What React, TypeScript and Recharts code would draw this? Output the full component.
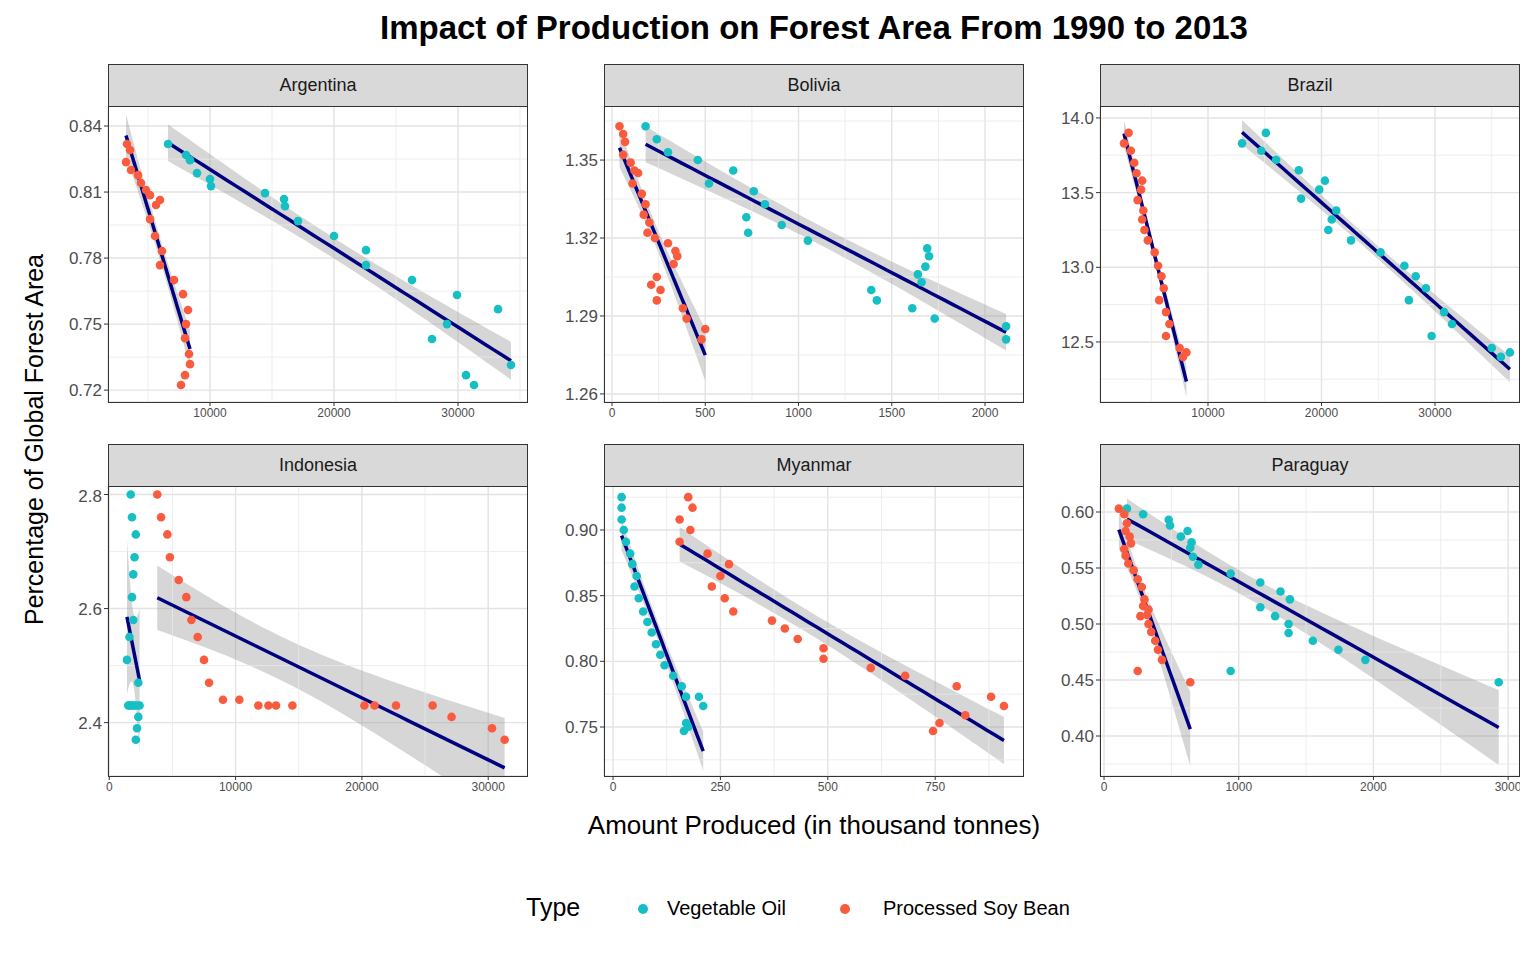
import React from 'react';
import {
  ComposedChart, Scatter, Line, Area, XAxis, YAxis, CartesianGrid, ReferenceLine,
} from 'recharts';

const TEAL = '#16BFC3';
const RED = '#FA5A3E';

type P = [number, number];

const argentinaOil: P[] = [[6613,.8318],[8065,.8268],[8387,.8245],[8952,.8186],[10000,.8159],[10081,.8127],[14435,.8095],[15968,.8068],[16048,.8036],[17097,.7968],[20000,.79],[22581,.7836],[22581,.7768],[26290,.77],[29919,.7632],[27903,.7432],[29113,.75],[33226,.7568],[30645,.7268],[31290,.7223],[34274,.7314]];
const argentinaSoy: P[] = [[3306,.8318],[3226,.8236],[3548,.8291],[3629,.82],[4194,.8177],[4435,.8141],[4839,.8109],[5161,.8086],[5645,.8041],[5968,.8064],[5161,.7977],[5565,.79],[6129,.7832],[5968,.7768],[7097,.77],[7823,.7636],[8065,.75],[8226,.7564],[7984,.7436],[8306,.7364],[8387,.7318],[7984,.7268],[7661,.7223]];
const boliviaOil: P[] = [[180,1.363],[240,1.358],[300,1.353],[460,1.350],[520,1.341],[650,1.346],[720,1.328],[730,1.322],[760,1.338],[820,1.333],[910,1.325],[1050,1.319],[1390,1.300],[1420,1.296],[1610,1.293],[1640,1.306],[1660,1.303],[1680,1.309],[1690,1.316],[1700,1.313],[1730,1.289],[2113,1.286],[2113,1.281]];
const boliviaSoy: P[] = [[40,1.363],[60,1.360],[70,1.357],[60,1.352],[100,1.349],[120,1.346],[140,1.345],[110,1.341],[160,1.337],[180,1.333],[170,1.329],[200,1.326],[190,1.322],[230,1.320],[300,1.318],[340,1.315],[350,1.313],[330,1.310],[240,1.305],[210,1.302],[260,1.300],[240,1.296],[380,1.293],[400,1.289],[500,1.285],[480,1.281]];
const brazilOil: P[] = [[13000,13.83],[14700,13.78],[15100,13.9],[16000,13.72],[18000,13.65],[18200,13.46],[19800,13.52],[20300,13.58],[20600,13.25],[20900,13.32],[21300,13.38],[22600,13.18],[25200,13.10],[27300,13.01],[27700,12.78],[28300,12.94],[29200,12.86],[29700,12.54],[30800,12.70],[31500,12.62],[35000,12.46],[35800,12.40],[36600,12.43]];
const brazilSoy: P[] = [[2600,13.83],[3000,13.90],[3200,13.78],[3500,13.70],[3700,13.63],[3800,13.45],[4100,13.52],[4200,13.58],[4300,13.38],[4200,13.32],[4400,13.25],[4700,13.18],[5300,13.10],[5600,13.01],[5900,12.94],[6100,12.86],[5700,12.78],[6300,12.70],[6600,12.62],[6300,12.54],[7500,12.46],[7800,12.40],[8100,12.43]];
const indonesiaOil: P[] = [[1700,2.80],[1800,2.76],[2100,2.73],[2000,2.69],[1900,2.66],[1800,2.62],[1900,2.58],[1600,2.55],[2300,2.47],[1400,2.51],[1600,2.43],[1700,2.43],[1900,2.43],[2200,2.43],[2400,2.43],[2300,2.41],[2200,2.39],[2100,2.37],[1500,2.43],[2000,2.43]];
const indonesiaSoy: P[] = [[3800,2.80],[4100,2.76],[4600,2.73],[4800,2.69],[5500,2.65],[6100,2.62],[6500,2.58],[7000,2.55],[7500,2.51],[7900,2.47],[9000,2.44],[10300,2.44],[11800,2.43],[12600,2.43],[13200,2.43],[14500,2.43],[20200,2.43],[21000,2.43],[22700,2.43],[25600,2.43],[27100,2.41],[30300,2.39],[31300,2.37]];
const myanmarOil: P[] = [[20,.925],[20,.917],[20,.908],[25,.900],[30,.891],[40,.882],[45,.874],[55,.865],[50,.857],[60,.848],[70,.838],[80,.830],[90,.822],[100,.813],[110,.805],[120,.797],[140,.789],[160,.781],[170,.773],[200,.773],[210,.766],[170,.753],[175,.750],[165,.747]];
const myanmarSoy: P[] = [[175,.925],[185,.917],[155,.908],[180,.900],[155,.891],[220,.882],[270,.874],[250,.865],[230,.857],[260,.848],[280,.838],[370,.831],[400,.825],[430,.817],[490,.810],[490,.802],[600,.795],[680,.789],[800,.781],[880,.773],[910,.766],[820,.759],[760,.753],[745,.747]];
const paraguayOil: P[] = [[170,.603],[290,.598],[480,.593],[490,.588],[570,.578],[620,.583],[640,.568],[650,.573],[660,.56],[700,.553],[940,.545],[1160,.537],[1160,.515],[1310,.529],[1270,.507],[1370,.500],[1370,.492],[1380,.522],[1550,.485],[1740,.477],[1940,.468],[940,.458],[2930,.448]];
const paraguaySoy: P[] = [[110,.603],[150,.598],[170,.59],[160,.583],[190,.578],[200,.572],[150,.567],[160,.561],[180,.554],[220,.548],[250,.54],[280,.533],[300,.522],[290,.516],[320,.508],[330,.5],[350,.493],[380,.485],[400,.477],[430,.468],[250,.458],[640,.448],[330,.513],[270,.507]];

const countries = ['Argentina', 'Bolivia', 'Brazil', 'Indonesia', 'Myanmar', 'Paraguay'];

// linear fit with 95% confidence band, like geom_smooth(method = "lm")
function smooth(pts: P[]) {
  const n = pts.length;
  const mx = pts.reduce((s, p) => s + p[0], 0) / n;
  const my = pts.reduce((s, p) => s + p[1], 0) / n;
  let sxx = 0, sxy = 0;
  pts.forEach(([x, y]) => { sxx += (x - mx) ** 2; sxy += (x - mx) * (y - my); });
  const b = sxy / sxx, a = my - b * mx;
  let sse = 0;
  pts.forEach(([x, y]) => { sse += (y - a - b * x) ** 2; });
  const s = Math.sqrt(sse / (n - 2));
  const t = 2.08;
  const xs = pts.map((p) => p[0]);
  const lo = Math.min(...xs), hi = Math.max(...xs);
  const out = [];
  for (let i = 0; i <= 40; i++) {
    const x = lo + ((hi - lo) * i) / 40;
    const y = a + b * x;
    const se = s * Math.sqrt(1 / n + (x - mx) ** 2 / sxx);
    out.push({ x, y, band: [y - t * se, y + t * se] });
  }
  return out;
}

const panels = [
  { oil: argentinaOil, soy: argentinaSoy, left: 108, top: 106, h: 296, xd: [1774, 35645], yd: [.7146, .8491], xt: [10000, 20000, 30000], yt: [.72, .75, .78, .81, .84], dec: 2 },
  { oil: boliviaOil, soy: boliviaSoy, left: 604, top: 106, h: 296, xd: [-43, 2209], yd: [1.2569, 1.3708], xt: [0, 500, 1000, 1500, 2000], yt: [1.26, 1.29, 1.32, 1.35], dec: 2 },
  { oil: brazilOil, soy: brazilSoy, left: 1100, top: 106, h: 296, xd: [485, 37489], yd: [12.098, 14.08], xt: [10000, 20000, 30000], yt: [12.5, 13, 13.5, 14], dec: 1 },
  { oil: indonesiaOil, soy: indonesiaSoy, left: 108, top: 486, h: 290, xd: [-100, 33150], yd: [2.3064, 2.8149], xt: [0, 10000, 20000, 30000], yt: [2.4, 2.6, 2.8], dec: 1 },
  { oil: myanmarOil, soy: myanmarSoy, left: 604, top: 486, h: 290, xd: [-21, 956.7], yd: [.7127, .9335], xt: [0, 250, 500, 750], yt: [.75, .8, .85, .9], dec: 2 },
  { oil: paraguayOil, soy: paraguaySoy, left: 1100, top: 486, h: 290, xd: [-30, 3088], yd: [.3643, .6232], xt: [0, 1000, 2000, 3000], yt: [.4, .45, .5, .55, .6], dec: 2 },
];

const W = 420;
const YW = 50;

function minors(t: number[]) {
  const step = t[1] - t[0];
  return [t[0] - step / 2, ...t.map((v) => v + step / 2)];
}

function Panel({ p, name }: { p: typeof panels[0]; name: string }) {
  const dot = (color: string) => (props: any) => (
    <circle cx={props.cx} cy={props.cy} r={4.3} fill={color} />
  );
  const fits = [smooth(p.oil), smooth(p.soy)];
  return (
    <>
      <div style={{ position: 'absolute', left: p.left, top: p.top - 42, width: W - 2, height: 41, background: '#D9D9D9', border: '1px solid #333', textAlign: 'center', lineHeight: '41px', fontSize: 18, color: '#1A1A1A' }}>{name}</div>
      <div style={{ position: 'absolute', left: p.left - YW, top: p.top }}>
        <ComposedChart width={W + YW} height={p.h + 24} margin={{ top: 0, right: 0, bottom: 0, left: 0 }}>
          <CartesianGrid stroke="#E3E3E3" strokeWidth={1.4} />
          {minors(p.xt).map((v) => <ReferenceLine key={'x' + v} x={v} stroke="#E8E8E8" strokeWidth={0.8} />)}
          {minors(p.yt).map((v) => <ReferenceLine key={'y' + v} y={v} stroke="#E8E8E8" strokeWidth={0.8} />)}
          <XAxis type="number" dataKey="x" domain={p.xd} ticks={p.xt} allowDataOverflow height={24} axisLine={false} tickSize={4} tick={{ fontSize: 12, fill: '#4D4D4D' }} tickLine={{ stroke: '#333' }} />
          <YAxis type="number" dataKey="y" domain={p.yd} ticks={p.yt} allowDataOverflow width={YW} axisLine={false} tickSize={4} tickFormatter={(v) => v.toFixed(p.dec)} tick={{ fontSize: 17, fill: '#4D4D4D' }} tickLine={{ stroke: '#333' }} />
          <Scatter data={p.oil.map(([x, y]) => ({ x, y }))} shape={dot(TEAL)} isAnimationActive={false} />
          <Scatter data={p.soy.map(([x, y]) => ({ x, y }))} shape={dot(RED)} isAnimationActive={false} />
          {fits.map((f, i) => (
            <Area key={'a' + i} data={f} dataKey="band" type="linear" stroke="none" fill="#999999" fillOpacity={0.4} dot={false} activeDot={false} isAnimationActive={false} />
          ))}
          {fits.map((f, i) => (
            <Line key={'l' + i} data={f} dataKey="y" type="linear" stroke="#000080" strokeWidth={3.5} dot={false} activeDot={false} isAnimationActive={false} />
          ))}
        </ComposedChart>
      </div>
      <div style={{ position: 'absolute', left: p.left, top: p.top, width: W - 2, height: p.h - 1, border: '1px solid #333', pointerEvents: 'none' }} />
    </>
  );
}

export default function App() {
  return (
    <div style={{ position: 'relative', width: 1536, height: 960, margin: -8, background: '#fff', fontFamily: 'Liberation Sans, Arial, sans-serif', color: '#000' }}>
      <div style={{ position: 'absolute', left: 0, width: 1628, top: 9, textAlign: 'center', fontSize: 33, fontWeight: 'bold' }}>Impact of Production on Forest Area From 1990 to 2013</div>
      {panels.map((p, i) => <Panel key={i} p={p} name={countries[i]} />)}
      <div style={{ position: 'absolute', left: 34 - 250, top: 440 - 15, width: 500, textAlign: 'center', fontSize: 25, transform: 'rotate(-90deg)' }}>Percentage of Global Forest Area</div>
      <div style={{ position: 'absolute', left: 0, width: 1628, top: 810, textAlign: 'center', fontSize: 26 }}>Amount Produced (in thousand tonnes)</div>
      <div style={{ position: 'absolute', left: 526, top: 893, fontSize: 25 }}>Type</div>
      <svg style={{ position: 'absolute', left: 0, top: 0 }} width={1536} height={960} pointerEvents="none">
        <circle cx={643} cy={909} r={5} fill={TEAL} />
        <circle cx={845} cy={909} r={5} fill={RED} />
      </svg>
      <div style={{ position: 'absolute', left: 667, top: 897, fontSize: 20 }}>Vegetable Oil</div>
      <div style={{ position: 'absolute', left: 883, top: 897, fontSize: 20 }}>Processed Soy Bean</div>
    </div>
  );
}
